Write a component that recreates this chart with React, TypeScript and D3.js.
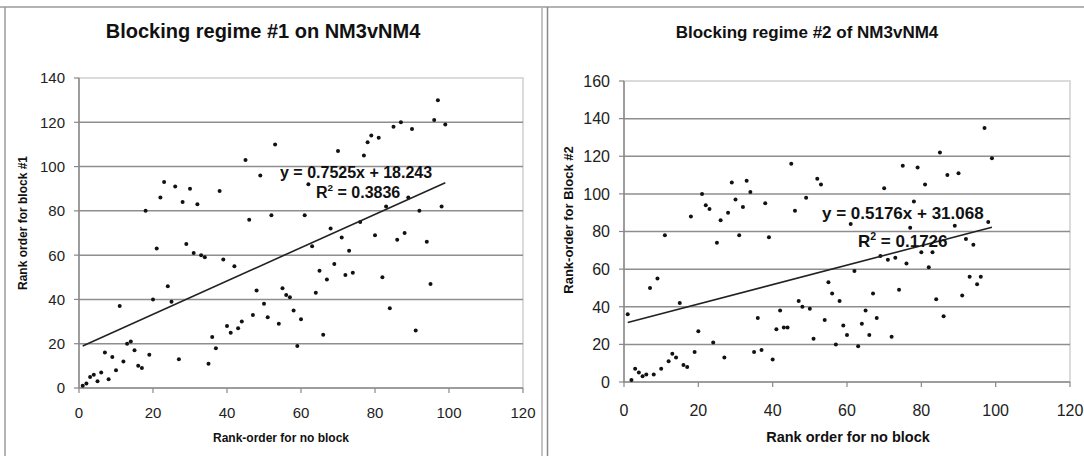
import React from "react";
import * as d3 from "d3";

// Regime #1: rank with no block (x) vs rank for block #1 (y)
const noBlockRank1 = [
  1, 2, 3, 4, 5, 6, 7, 8, 9, 10, 11, 12, 13, 14, 15, 16, 17, 18, 19, 20,
  21, 22, 23, 24, 25, 26, 27, 28, 29, 30, 31, 32, 33, 34, 35, 36, 37, 38, 39, 40,
  41, 42, 43, 44, 45, 46, 47, 48, 49, 50, 51, 52, 53, 54, 55, 56, 57, 58, 59, 60,
  61, 62, 63, 64, 65, 66, 67, 68, 69, 70, 71, 72, 73, 74, 76, 77, 78, 79, 80, 81,
  82, 83, 84, 85, 86, 87, 88, 89, 90, 91, 92, 94, 95, 96, 97, 98, 99,
];
const block1Rank = [
  1, 2, 5, 6, 3, 7, 16, 4, 14, 8, 37, 12, 20, 21, 17, 10, 9, 80, 15, 40,
  63, 86, 93, 46, 39, 91, 13, 84, 65, 90, 61, 83, 60, 59, 11, 23, 18, 89, 58, 28,
  25, 55, 27, 30, 103, 76, 33, 44, 96, 38, 32, 78, 110, 29, 45, 42, 41, 35, 19, 31,
  78, 92, 64, 43, 53, 24, 49, 72, 56, 107, 68, 51, 62, 52, 75, 105, 111, 114, 69, 113,
  50, 82, 36, 118, 67, 120, 70, 86, 117, 26, 80, 66, 47, 121, 130, 82, 119,
];

// Regime #2: rank with no block (x) vs rank for block #2 (y)
const noBlockRank2 = [
  1, 2, 3, 4, 5, 6, 7, 8, 9, 10, 11, 12, 13, 14, 15, 16, 17, 18, 19, 20,
  21, 22, 23, 24, 25, 26, 27, 28, 29, 30, 31, 32, 33, 34, 35, 36, 37, 38, 39, 40,
  41, 42, 43, 44, 45, 46, 47, 48, 49, 50, 51, 52, 53, 54, 55, 56, 57, 58, 59, 60,
  61, 62, 63, 64, 65, 66, 67, 68, 69, 70, 71, 72, 73, 74, 75, 76, 77, 78, 79, 80,
  81, 82, 83, 84, 85, 86, 87, 89, 90, 91, 92, 93, 94, 95, 96, 97, 98, 99,
];
const block2Rank = [
  36, 1, 7, 5, 3, 4, 50, 4, 55, 7, 78, 11, 15, 13, 42, 9, 8, 88, 16, 27,
  100, 94, 92, 21, 74, 86, 13, 90, 106, 97, 78, 93, 107, 101, 16, 34, 17, 95, 77, 12,
  28, 38, 29, 29, 116, 91, 43, 40, 98, 39, 23, 108, 105, 33, 53, 47, 20, 43, 30, 25,
  84, 59, 19, 31, 38, 25, 47, 34, 67, 103, 65, 24, 66, 49, 115, 63, 82, 96, 114, 69,
  105, 61, 69, 44, 122, 35, 110, 83, 111, 46, 76, 56, 73, 52, 56, 135, 85, 119,
];

// Linear fits printed on each chart
const fit1 = { slope: 0.7525, intercept: 18.243, r2: "0.3836" };
const fit2 = { slope: 0.5176, intercept: 31.068, r2: "0.1726" };

const xTicks = [0, 20, 40, 60, 80, 100, 120];
const yTicks1 = [0, 20, 40, 60, 80, 100, 120, 140];
const yTicks2 = [0, 20, 40, 60, 80, 100, 120, 140, 160];

const FONT = "'Liberation Sans', Arial, Helvetica, sans-serif";

type PanelProps = {
  xs: number[];
  ys: number[];
  fit: { slope: number; intercept: number; r2: string };
  yTicks: number[];
  yMax: number;
  left: number;
  right: number;
  top: number;
  bottom: number;
  title: string;
  titleX: number;
  titleSize: number;
  xLabel: string;
  xLabelX: number;
  xLabelSize: number;
  yLabel: string;
  yLabelX: number;
  yLabelY: number;
  yLabelSize: number;
  tickSize: number;
  xTickBaseline: number;
  eqX: number;
  eqY: number;
  r2X: number;
  r2Y: number;
  eqSize: number;
};

function Panel(p: PanelProps) {
  const x = d3.scaleLinear().domain([0, 120]).range([p.left, p.right]);
  const y = d3.scaleLinear().domain([0, p.yMax]).range([p.bottom, p.top]);
  const x0 = d3.min(p.xs) as number;
  const x1 = d3.max(p.xs) as number;
  const line = d3
    .line<number>()
    .x((v) => x(v))
    .y((v) => y(p.fit.slope * v + p.fit.intercept));

  return (
    <g fontFamily={FONT}>
      <text
        x={p.titleX}
        y={38}
        textAnchor="middle"
        fontSize={p.titleSize}
        fontWeight="bold"
        fill="#111"
      >
        {p.title}
      </text>

      {/* plot area outline */}
      <rect
        x={p.left}
        y={p.top}
        width={p.right - p.left}
        height={p.bottom - p.top}
        fill="none"
        stroke="#cfcfcf"
        strokeWidth={1.5}
      />

      {/* horizontal gridlines */}
      {p.yTicks
        .filter((t) => t > 0 && t < p.yMax)
        .map((t) => (
          <line
            key={"g" + t}
            x1={p.left}
            x2={p.right}
            y1={y(t)}
            y2={y(t)}
            stroke="#8e8e8e"
            strokeWidth={1.5}
          />
        ))}

      {/* axes */}
      <line x1={p.left} x2={p.left} y1={p.top} y2={p.bottom} stroke="#888" strokeWidth={1.5} />
      <line x1={p.left} x2={p.right} y1={p.bottom} y2={p.bottom} stroke="#888" strokeWidth={1.5} />

      {p.yTicks.map((t) => (
        <g key={"y" + t}>
          <line x1={p.left - 5} x2={p.left} y1={y(t)} y2={y(t)} stroke="#888" strokeWidth={1.2} />
          <text
            x={p.left - 14}
            y={y(t)}
            dy="0.36em"
            textAnchor="end"
            fontSize={p.tickSize}
            fill="#222"
          >
            {t}
          </text>
        </g>
      ))}

      {xTicks.map((t) => (
        <g key={"x" + t}>
          <line x1={x(t)} x2={x(t)} y1={p.bottom} y2={p.bottom + 5} stroke="#888" strokeWidth={1.2} />
          <text
            x={x(t)}
            y={p.xTickBaseline}
            textAnchor="middle"
            fontSize={p.tickSize}
            fill="#222"
          >
            {t}
          </text>
        </g>
      ))}

      <text
        x={p.xLabelX}
        y={442}
        textAnchor="middle"
        fontSize={p.xLabelSize}
        fontWeight="bold"
        fill="#111"
      >
        {p.xLabel}
      </text>
      <text
        transform={`translate(${p.yLabelX},${p.yLabelY}) rotate(-90)`}
        textAnchor="middle"
        dy="0.36em"
        fontSize={p.yLabelSize}
        fontWeight="bold"
        fill="#111"
      >
        {p.yLabel}
      </text>

      {/* points */}
      {p.xs.map((v, i) => (
        <circle key={"p" + i} cx={x(v)} cy={y(p.ys[i])} r={2} fill="#111" />
      ))}

      {/* trend line */}
      <path d={line([x0, x1]) || ""} fill="none" stroke="#222" strokeWidth={1.6} />

      <text x={p.eqX} y={p.eqY} fontSize={p.eqSize} fontWeight="bold" fill="#111">
        {`y = ${p.fit.slope}x + ${p.fit.intercept}`}
      </text>
      <text x={p.r2X} y={p.r2Y} fontSize={p.eqSize} fontWeight="bold" fill="#111">
        R
        <tspan fontSize={p.eqSize * 0.62} dy={-p.eqSize * 0.42}>
          2
        </tspan>
        <tspan dy={p.eqSize * 0.42}>{` = ${p.fit.r2}`}</tspan>
      </text>
    </g>
  );
}

export default function App() {
  return (
    <div style={{ position: "absolute", left: 0, top: 0 }}>
      <svg width={1084} height={456} style={{ display: "block", background: "#fff" }}>
        <rect x={0} y={0} width={1084} height={456} fill="#fff" />
        {/* frames */}
        <line x1={0} x2={1084} y1={7} y2={7} stroke="#9a9a9a" strokeWidth={1.5} />
        <line x1={5} x2={5} y1={7} y2={456} stroke="#9a9a9a" strokeWidth={1.5} />
        <line x1={542} x2={542} y1={7} y2={456} stroke="#b0b0b0" strokeWidth={1.5} />
        <line x1={547.5} x2={547.5} y1={7} y2={456} stroke="#8a8a8a" strokeWidth={1.5} />

        <Panel
          xs={noBlockRank1}
          ys={block1Rank}
          fit={fit1}
          yTicks={yTicks1}
          yMax={140}
          left={79}
          right={523}
          top={78}
          bottom={388}
          title="Blocking regime #1 on NM3vNM4"
          titleX={263}
          titleSize={20}
          xLabel="Rank-order for no block"
          xLabelX={281}
          xLabelSize={12}
          yLabel="Rank order for block #1"
          yLabelX={23}
          yLabelY={223}
          yLabelSize={12}
          tickSize={15}
          xTickBaseline={418}
          eqX={280}
          eqY={178}
          r2X={316}
          r2Y={198}
          eqSize={16}
        />
        <Panel
          xs={noBlockRank2}
          ys={block2Rank}
          fit={fit2}
          yTicks={yTicks2}
          yMax={160}
          left={624}
          right={1070}
          top={81}
          bottom={382}
          title="Blocking regime #2 of NM3vNM4"
          titleX={807}
          titleSize={17}
          xLabel="Rank order for no block"
          xLabelX={848}
          xLabelSize={14.5}
          yLabel="Rank-order for Block #2"
          yLabelX={568}
          yLabelY={220}
          yLabelSize={13}
          tickSize={16}
          xTickBaseline={416}
          eqX={822}
          eqY={219}
          r2X={858}
          r2Y={247}
          eqSize={17}
        />
      </svg>
    </div>
  );
}
